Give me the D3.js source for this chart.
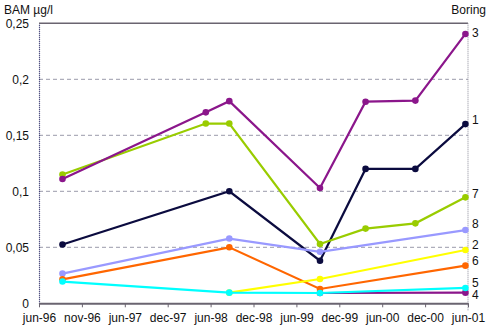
<!DOCTYPE html>
<html><head><meta charset="utf-8">
<script src="https://cdn.jsdelivr.net/npm/d3@7"></script>
<style>body{margin:0;background:#fff}svg text{font-family:"Liberation Sans",Arial,sans-serif;fill:#111}</style>
</head><body><svg id="c" width="490" height="333"></svg>
<script>
const sampleDates = ["1996-09-09","1998-05-12","1998-08-20","1999-09-10","2000-03-22","2000-10-20","2001-05-21"];
const tickLabels = ["jun-96","nov-96","jun-97","dec-97","jun-98","dec-98","jun-99","dec-99","jun-00","dec-00","jun-01"];
const yTicks = [0, 0.05, 0.1, 0.15, 0.2, 0.25];
const seriesNames = ["4","1","7","3","8","6","2","5"];
const seriesColors = ["#8b168b","#0b0b3f","#99cc00","#8b168b","#9999ff","#ff6600","#ffff00","#00ffff"];
const s4 = [null,null,null,0.0092,null,null,0.0095];
const s1 = [0.0525,null,0.1,0.038,0.12,0.12,0.16];
const s7 = [0.115,0.1605,0.1605,0.053,0.0667,0.0714,0.0946];
const s3 = [0.111,0.1705,0.1805,0.103,0.18,0.181,0.2405];
const s8 = [0.0265,null,0.0578,0.046,null,null,0.0654];
const s6 = [0.0214,null,0.05,0.0128,null,null,0.0336];
const s2 = [null,null,0.0095,0.0217,null,null,0.0476];
const s5 = [0.0194,null,0.0095,0.0092,null,null,0.0137];
const seriesValues = [s4,s1,s7,s3,s8,s6,s2,s5];
const labelValues = [0.0074,0.1642,0.0976,0.2413,0.0714,0.0385,0.0524,0.0186];

const svg = d3.select("#c");
const L=39, R=468, T=23.3, B=303.3;
const parse = d3.timeParse("%Y-%m-%d");
const t0 = parse("1996-06-01"), t1 = parse("2001-06-01");
const x = d3.scaleTime().domain([t0,t1]).range([L,R]);
const y = d3.scaleLinear().domain([0,0.25]).range([B,T]);
const fmt = v => String(v).replace(".",",");

// gridlines
svg.append("g").selectAll("line").data(yTicks.filter(v=>v>0&&v<0.25)).join("line")
  .attr("x1",L).attr("x2",R).attr("y1",d=>y(d)).attr("y2",d=>y(d))
  .attr("stroke","#9a9aaa").attr("stroke-width",1).attr("stroke-dasharray","4,3");
// top border
svg.append("line").attr("x1",L).attr("x2",R).attr("y1",y(0.25)).attr("y2",y(0.25)).attr("stroke","#6a6470").attr("stroke-width",1.5);
// right border
svg.append("line").attr("x1",R).attr("x2",R).attr("y1",T).attr("y2",B+7).attr("stroke","#8a8a99").attr("stroke-width",1).attr("stroke-dasharray","1,1");

// y axis
const ya = svg.append("g").attr("transform",`translate(${L},0)`)
  .call(d3.axisLeft(y).tickValues(yTicks).tickFormat(fmt).tickSize(0).tickPadding(10));
ya.select(".domain").attr("stroke","#1a1a5a").attr("stroke-dasharray","1,1").attr("stroke-width",1.2);
ya.selectAll("text").attr("font-size",12).attr("font-family","Liberation Sans, Arial").attr("fill","#111");

// x axis
const tickDates = d3.range(tickLabels.length).map(i=>new Date(+t0 + i*(t1-t0)/(tickLabels.length-1)));
const xa = svg.append("g").attr("transform",`translate(0,${B})`)
  .call(d3.axisBottom(x).tickValues(tickDates).tickFormat((d,i)=>tickLabels[i]).tickSize(4).tickSizeOuter(0).tickPadding(6));
xa.select(".domain").attr("stroke","#6a6470").attr("stroke-width",2);
xa.selectAll(".tick line").attr("stroke","#6a6470");
xa.selectAll("text").attr("font-size",12).attr("font-family","Liberation Sans, Arial").attr("fill","#111");

// series
const line = d3.line().defined(d=>d.v!=null).x(d=>x(d.t)).y(d=>y(d.v));
seriesValues.forEach((vals,i)=>{
  const pts = vals.map((v,j)=>({t:parse(sampleDates[j]),v})).filter(d=>d.v!=null);
  svg.append("path").datum(pts).attr("d",line).attr("fill","none")
    .attr("stroke",seriesColors[i]).attr("stroke-width",2.2);
  svg.append("g").selectAll("circle").data(pts).join("circle")
    .attr("cx",d=>x(d.t)).attr("cy",d=>y(d.v)).attr("r",3.3).attr("fill",seriesColors[i]);
});

// series labels
svg.append("g").selectAll("text").data(seriesNames).join("text")
  .attr("x",R+4).attr("y",(d,i)=>y(labelValues[i])).attr("dy","0.36em")
  .attr("font-size",12).text(d=>d);

svg.append("text").attr("x",4).attr("y",14).attr("font-size",12).text("BAM µg/l");
svg.append("text").attr("x",486).attr("y",14).attr("text-anchor","end").attr("font-size",12).text("Boring");
</script></body></html>
